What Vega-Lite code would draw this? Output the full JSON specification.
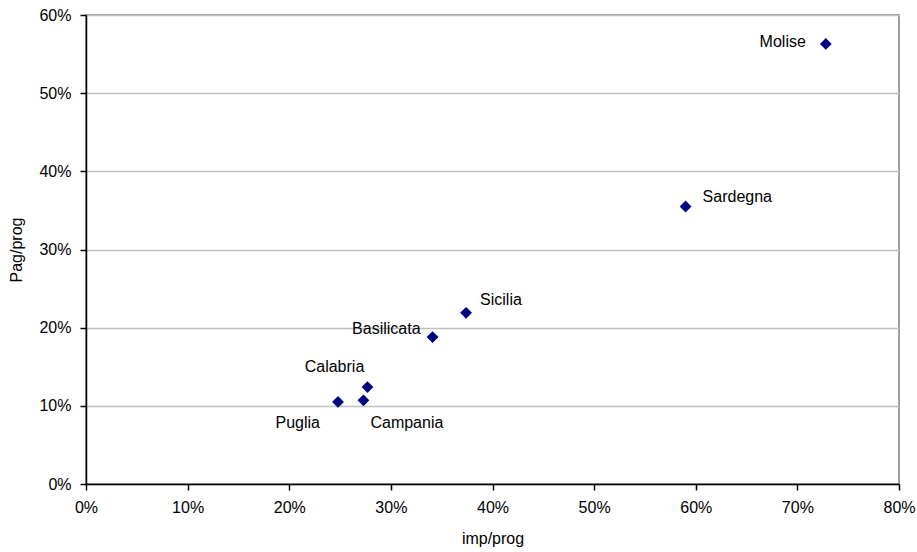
{
  "$schema": "https://vega.github.io/schema/vega-lite/v6.json",
  "autosize": {"type": "none"},
  "width": 813,
  "height": 469,
  "padding": {"left": 86, "top": 15, "right": 18, "bottom": 68},
  "background": "white",
  "config": {
    "font": "Liberation Sans",
    "view": {"stroke": "#808080", "strokeWidth": 1.5},
    "axis": {
      "labelFont": "Liberation Sans",
      "titleFont": "Liberation Sans",
      "labelFontSize": 16,
      "titleFontSize": 16,
      "titleFontWeight": "normal",
      "labelColor": "black",
      "titleColor": "black",
      "domainColor": "black",
      "domainWidth": 1.5,
      "tickColor": "black",
      "tickWidth": 1.5
    }
  },
  "data": {
    "values": [
      {"regione": "Molise", "imp": 0.728, "pag": 0.563},
      {"regione": "Sardegna", "imp": 0.590, "pag": 0.355},
      {"regione": "Sicilia", "imp": 0.374, "pag": 0.219},
      {"regione": "Basilicata", "imp": 0.341, "pag": 0.188},
      {"regione": "Calabria", "imp": 0.277, "pag": 0.124},
      {"regione": "Campania", "imp": 0.273, "pag": 0.107},
      {"regione": "Puglia", "imp": 0.248, "pag": 0.105}
    ]
  },
  "encoding": {
    "x": {
      "field": "imp", "type": "quantitative",
      "scale": {"domain": [0, 0.8], "nice": false},
      "axis": {"format": ".0%", "values": [0,0.1,0.2,0.3,0.4,0.5,0.6,0.7,0.8], "grid": false, "tickSize": 6, "labelPadding": 9, "title": "imp/prog", "titlePadding": 15, "labelFlush": false}
    },
    "y": {
      "field": "pag", "type": "quantitative",
      "scale": {"domain": [0, 0.6], "nice": false},
      "axis": {"format": ".0%", "values": [0,0.1,0.2,0.3,0.4,0.5,0.6], "grid": true, "gridColor": "#c0c0c0", "gridWidth": 1.5, "tickSize": 6, "labelPadding": 9, "title": "Pag/prog", "titlePadding": 14, "labelFlush": false}
    }
  },
  "layer": [
    {"mark": {"type": "point", "shape": "diamond", "filled": true, "color": "#000080", "size": 140, "opacity": 1}},
    {"transform": [{"filter": "datum.regione == 'Molise'"}], "mark": {"type": "text", "align": "right", "baseline": "middle", "dx": -20, "dy": -2, "fontSize": 16, "color": "black"}, "encoding": {"text": {"field": "regione"}}},
    {"transform": [{"filter": "datum.regione == 'Sardegna'"}], "mark": {"type": "text", "align": "left", "baseline": "middle", "dx": 17, "dy": -10, "fontSize": 16, "color": "black"}, "encoding": {"text": {"field": "regione"}}},
    {"transform": [{"filter": "datum.regione == 'Sicilia'"}], "mark": {"type": "text", "align": "left", "baseline": "middle", "dx": 14, "dy": -13, "fontSize": 16, "color": "black"}, "encoding": {"text": {"field": "regione"}}},
    {"transform": [{"filter": "datum.regione == 'Basilicata'"}], "mark": {"type": "text", "align": "right", "baseline": "middle", "dx": -12, "dy": -8, "fontSize": 16, "color": "black"}, "encoding": {"text": {"field": "regione"}}},
    {"transform": [{"filter": "datum.regione == 'Calabria'"}], "mark": {"type": "text", "align": "center", "baseline": "middle", "dx": -33, "dy": -20, "fontSize": 16, "color": "black"}, "encoding": {"text": {"field": "regione"}}},
    {"transform": [{"filter": "datum.regione == 'Campania'"}], "mark": {"type": "text", "align": "left", "baseline": "middle", "dx": 7, "dy": 23, "fontSize": 16, "color": "black"}, "encoding": {"text": {"field": "regione"}}},
    {"transform": [{"filter": "datum.regione == 'Puglia'"}], "mark": {"type": "text", "align": "right", "baseline": "middle", "dx": -18, "dy": 21, "fontSize": 16, "color": "black"}, "encoding": {"text": {"field": "regione"}}}
  ]
}
